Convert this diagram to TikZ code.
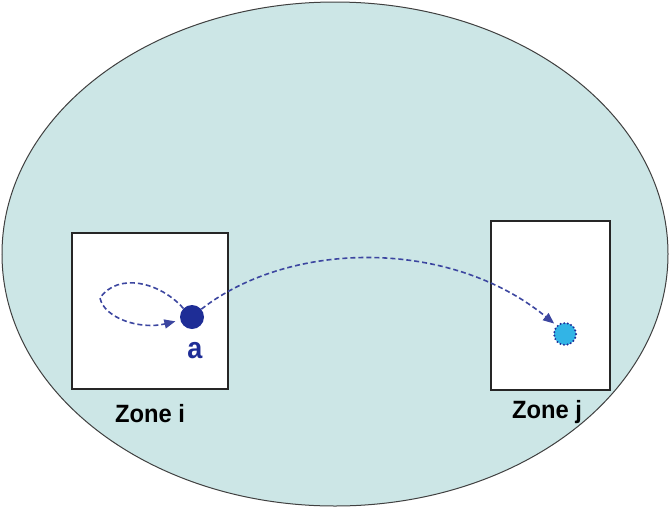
\documentclass[tikz,border=0pt]{standalone}
\usepackage{fontspec}
\setmainfont{Liberation Sans}
\usetikzlibrary{arrows.meta}
\definecolor{bgcyan}{RGB}{204,230,230}
\definecolor{dotblue}{RGB}{30,45,150}
\definecolor{dashblue}{RGB}{60,70,160}
\definecolor{lightdot}{RGB}{50,180,230}
\tikzset{
  zonebox/.style={draw=black!85, line width=1.2pt, fill=white},
  zonelabel/.style={font=\fontsize{25}{28}\selectfont\bfseries, text=black, anchor=base, inner sep=0pt},
  move/.style={draw=dashblue, line width=1.6pt, dash pattern=on 5pt off 3pt,
    -{Triangle[length=11pt,width=9pt]}},
}
\begin{document}
\begin{tikzpicture}[x=1pt,y=-1pt]
\useasboundingbox (0,0) rectangle (670,507);
\fill[white] (0,0) rectangle (670,507);
\draw[fill=bgcyan, draw=black!75, line width=1pt] (335,254) ellipse [x radius=333, y radius=252];
\draw[zonebox] (72,233) rectangle (228,389);
\draw[zonebox] (491,221) rectangle (610,390);
\node[zonelabel, xscale=0.95] (zi) at (150,422) {Zone i};
\node[zonelabel, xscale=0.95] (zj) at (547,418) {Zone j};
\node[circle, fill=dotblue, minimum size=24pt, inner sep=0pt] (a) at (192,317) {};
\node[font=\fontsize{30}{32}\selectfont\bfseries, text=dotblue, anchor=base, inner sep=0pt, xscale=0.9] (alab) at (195,358) {a};
\node[circle, fill=lightdot, draw=dotblue, line width=2.2pt, dash pattern=on 0pt off 3.6pt, line cap=round, minimum size=22pt, inner sep=0pt] (b) at (565,334) {};
\draw[move, shorten >=5pt] (a.135) .. controls (160,282) and (118,272) .. (100,298) .. controls (104,318) and (140,330) .. (a.195);
\draw[move, shorten >=3pt] (a.40) .. controls (290,240) and (450,238) .. (b.135);
\end{tikzpicture}
\end{document}
